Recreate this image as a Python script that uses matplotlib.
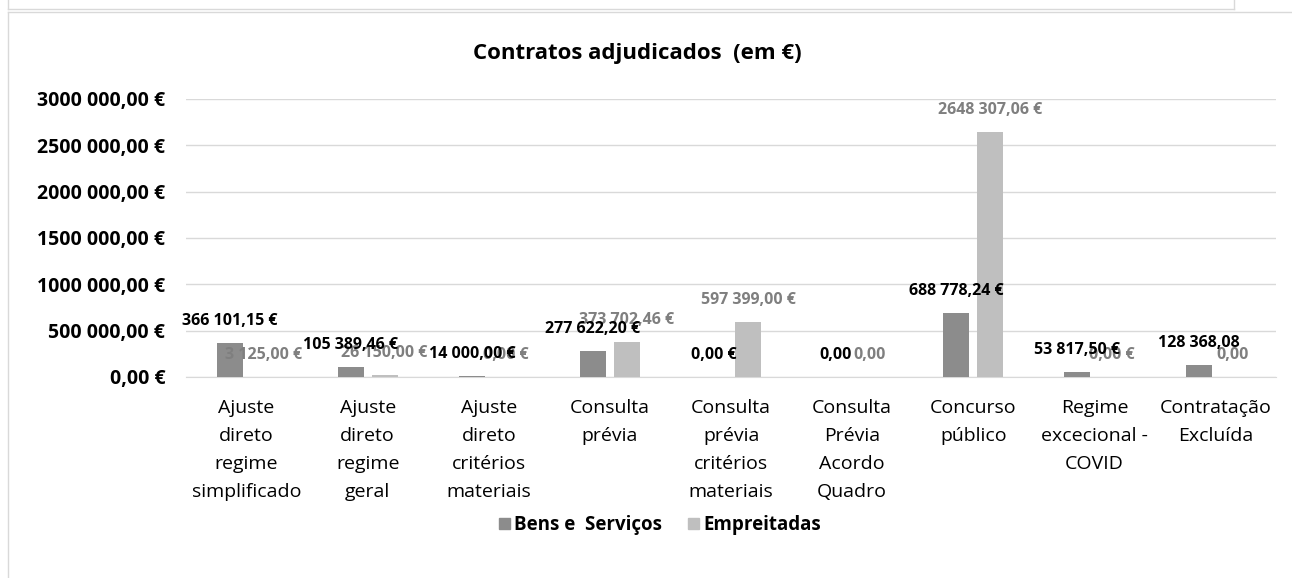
import matplotlib.pyplot as plt
import numpy as np
from matplotlib.patches import Rectangle
from matplotlib.lines import Line2D

plt.rcParams['font.family'] = ['Open Sans', 'DejaVu Sans']

categorias = ["Ajuste\ndireto\nregime\nsimplificado", "Ajuste\ndireto\nregime\ngeral",
              "Ajuste\ndireto\ncritérios\nmateriais", "Consulta\nprévia",
              "Consulta\nprévia\ncritérios\nmateriais", "Consulta\nPrévia\nAcordo\nQuadro",
              "Concurso\npúblico", "Regime\nexcecional -\nCOVID", "Contratação\nExcluída"]
bens = [366101.15, 105389.46, 14000.00, 277622.20, 0.00, 0.00, 688778.24, 53817.50, 128368.08]
empreitadas = [3125.00, 26150.00, 0.00, 373702.46, 597399.00, 0.00, 2648307.06, 0.00, 0.00]
bens_labels = ["366 101,15 €", "105 389,46 €", "14 000,00 €", "277 622,20 €", "0,00 €",
               "0,00", "688 778,24 €", "53 817,50 €", "128 368,08"]
emp_labels = ["3 125,00 €", "26 150,00 €", "0,00 €", "373 702,46 €", "597 399,00 €",
              "0,00", "2648 307,06 €", "0,00 €", "0,00"]
yticks = [0, 500000, 1000000, 1500000, 2000000, 2500000, 3000000]
ytick_labels = ["0,00 €", "500 000,00 €", "1000 000,00 €", "1500 000,00 €",
                "2000 000,00 €", "2500 000,00 €", "3000 000,00 €"]

c_bens = '#8c8c8c'
c_emp = '#bfbfbf'

fig = plt.figure(figsize=(12.92, 5.78), dpi=100)
ax = fig.add_axes([0.144, 0.3478, 0.8437, 0.481])

x = np.arange(len(categorias))
w = 0.215
off = 0.14
ax.bar(x - off, bens, w, color=c_bens, zorder=3)
ax.bar(x + off, empreitadas, w, color=c_emp, zorder=3)

for xi, v, lab in zip(x, bens, bens_labels):
    ax.annotate(lab, (xi - off, v), xytext=(0, 15.8), textcoords='offset points',
                ha='center', va='center', fontsize=11.5, fontweight='bold', color='black', zorder=5)
for xi, v, lab in zip(x, empreitadas, emp_labels):
    ax.annotate(lab, (xi + off, v), xytext=(0, 15.8), textcoords='offset points',
                ha='center', va='center', fontsize=11.5, fontweight='bold', color='#7f7f7f', zorder=4)

ax.set_xlim(-0.5, len(categorias) - 0.5)
ax.set_ylim(0, 3000000)
ax.set_yticks(yticks)
ax.set_yticklabels(ytick_labels, fontsize=14, fontweight='bold')
ax.set_xticks(x)
ax.set_xticklabels(categorias, fontsize=14, linespacing=1.72)
ax.tick_params(axis='both', length=0)
ax.tick_params(axis='x', pad=16)
ax.tick_params(axis='y', pad=15)
ax.grid(axis='y', color='#d9d9d9', linewidth=1, zorder=0)
for s in ['top', 'right', 'left']:
    ax.spines[s].set_visible(False)
ax.spines['bottom'].set_color('#d9d9d9')

fig.text(0.493, 1 - 54 / 578, "Contratos adjudicados  (em €)", ha='center', va='center',
         fontsize=16, fontweight='bold')

handles = [Rectangle((0, 0), 1, 1, color=c_bens), Rectangle((0, 0), 1, 1, color=c_emp)]
leg = fig.legend(handles, ["Bens e  Serviços", "Empreitadas"], loc='center',
                 bbox_to_anchor=(0.511, 1 - 525 / 578), ncol=2, frameon=False,
                 prop={'weight': 'bold', 'size': 13.5}, handlelength=0.55, handleheight=0.55,
                 handletextpad=0.25, columnspacing=1.4, borderpad=0.1)

# molduras do gráfico
fig.add_artist(Line2D([8 / 1292, 8 / 1292], [0, 1 - 12 / 578], color='#d9d9d9', lw=1))
fig.add_artist(Line2D([8 / 1292, 1], [1 - 12 / 578, 1 - 12 / 578], color='#d9d9d9', lw=1))
fig.add_artist(Line2D([8 / 1292, 1234 / 1292], [1 - 9 / 578, 1 - 9 / 578], color='#d9d9d9', lw=1))
fig.add_artist(Line2D([1234 / 1292, 1234 / 1292], [1, 1 - 9 / 578], color='#d9d9d9', lw=1))
fig.add_artist(Line2D([8 / 1292, 8 / 1292], [1, 1 - 9 / 578], color='#d9d9d9', lw=1))

fig.savefig("out.png", dpi=100)
